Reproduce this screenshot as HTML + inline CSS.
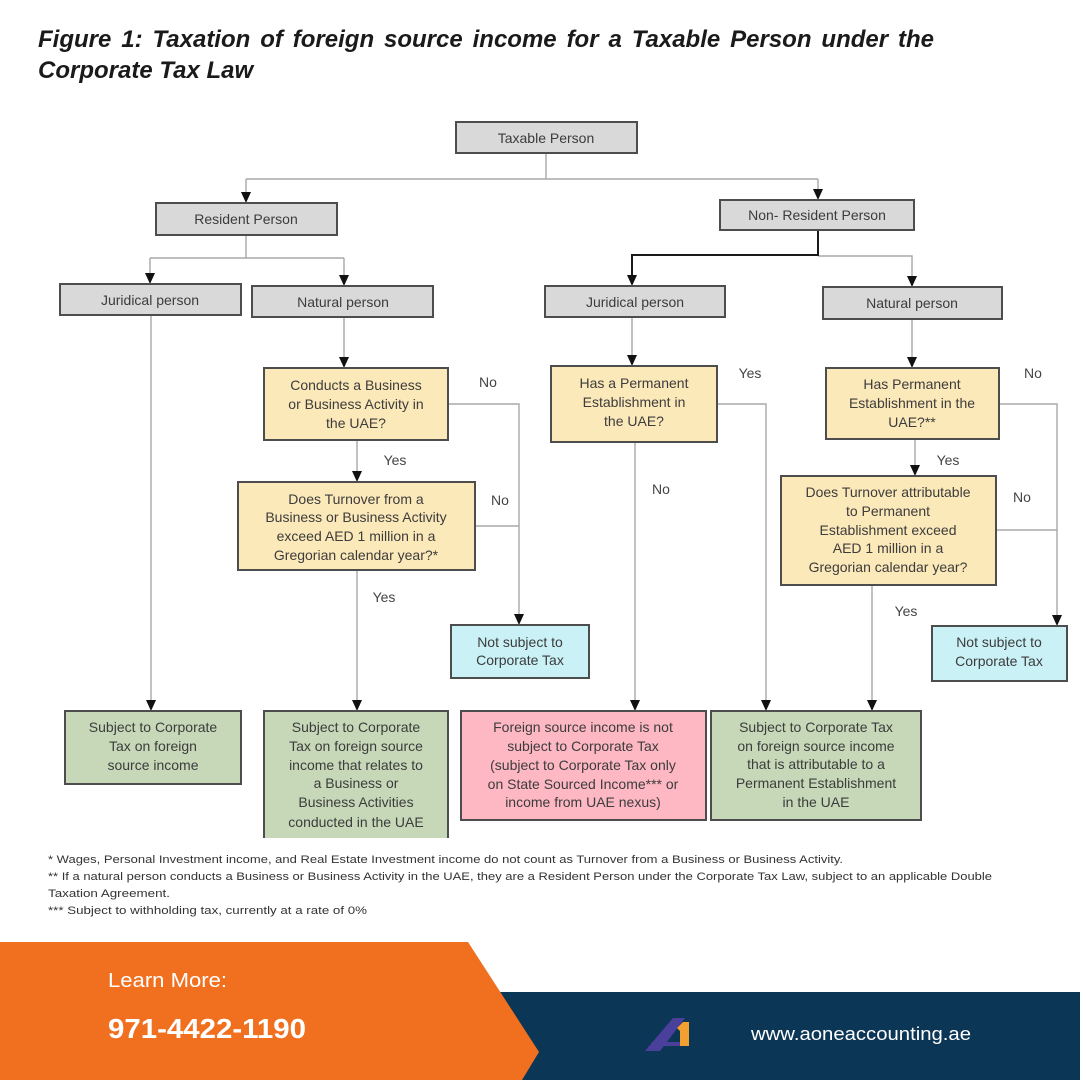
<!DOCTYPE html>
<html>
<head>
<meta charset="utf-8">
<style>
html,body{margin:0;padding:0;background:#fff;}
#wrap{position:relative;width:1080px;height:1080px;overflow:hidden;}
svg{display:block;position:absolute;left:0;top:0;}
.t{position:absolute;left:38px;width:896px;font-family:"Liberation Sans",Arial,sans-serif;font-size:24px;font-weight:bold;font-style:italic;color:#1a1a1a;line-height:28px;white-space:nowrap;}
#t1{top:26px;text-align:justify;text-align-last:justify;white-space:normal;}
#t2{top:57px;}
.bx{font-family:"Liberation Sans",Arial,sans-serif;font-size:14px;fill:#3c3c3c;text-anchor:middle;}
.lb{font-family:"Liberation Sans",Arial,sans-serif;font-size:14px;fill:#444;text-anchor:middle;}
.fn{font-family:"Liberation Sans",Arial,sans-serif;font-size:11px;fill:#333;}
.ln{stroke:#a8a8a8;stroke-width:1.4;fill:none;}
.gr{fill:#d9d9d9;stroke:#4d4d4d;stroke-width:2;}
.ye{fill:#fce9b9;stroke:#4d4d4d;stroke-width:2;}
.cy{fill:#c9f1f6;stroke:#4d4d4d;stroke-width:2;}
.gn{fill:#c6d8b8;stroke:#4d4d4d;stroke-width:2;}
.pk{fill:#fdb8c3;stroke:#4d4d4d;stroke-width:2;}
</style>
</head>
<body>
<div id="wrap">
<svg width="1080" height="1080" viewBox="0 0 1080 1080" xmlns="http://www.w3.org/2000/svg">
<rect width="1080" height="1080" fill="#fff"/>

<!-- Connectors -->
<g class="ln">
<path d="M546 153 V179 M246 179 H818 M246 179 V195 M818 179 V192"/>
<path d="M246 235 V258 M150 258 H344 M150 258 V276 M344 258 V278"/>
<path d="M818 256 H912 V279"/>
<path d="M151 315 V703"/>
<path d="M344 317 V360"/>
<path d="M357 440 V474"/>
<path d="M448 404 H519 V617"/>
<path d="M475 526 H519"/>
<path d="M357 570 V703"/>
<path d="M632 317 V358"/>
<path d="M717 404 H766 V703"/>
<path d="M635 442 V703"/>
<path d="M912 319 V360"/>
<path d="M915 439 V468"/>
<path d="M999 404 H1057 V618"/>
<path d="M996 530 H1057"/>
<path d="M872 585 V703"/>
</g>
<path d="M818 230 V255 H632 V278" stroke="#1a1a1a" stroke-width="2" fill="none"/>

<!-- Arrowheads -->
<g fill="#111">
<polygon points="241,192 251,192 246,203"/>
<polygon points="813,189 823,189 818,200"/>
<polygon points="145,273 155,273 150,284"/>
<polygon points="339,275 349,275 344,286"/>
<polygon points="627,275 637,275 632,286"/>
<polygon points="907,276 917,276 912,287"/>
<polygon points="146,700 156,700 151,711"/>
<polygon points="339,357 349,357 344,368"/>
<polygon points="352,471 362,471 357,482"/>
<polygon points="514,614 524,614 519,625"/>
<polygon points="352,700 362,700 357,711"/>
<polygon points="627,355 637,355 632,366"/>
<polygon points="761,700 771,700 766,711"/>
<polygon points="630,700 640,700 635,711"/>
<polygon points="907,357 917,357 912,368"/>
<polygon points="910,465 920,465 915,476"/>
<polygon points="1052,615 1062,615 1057,626"/>
<polygon points="867,700 877,700 872,711"/>
</g>

<!-- Gray boxes -->
<rect class="gr" x="456" y="122" width="181" height="31"/>
<text class="bx" x="546" y="143">Taxable Person</text>
<rect class="gr" x="156" y="203" width="181" height="32"/>
<text class="bx" x="246" y="224">Resident Person</text>
<rect class="gr" x="720" y="200" width="194" height="30"/>
<text class="bx" x="817" y="220">Non- Resident Person</text>
<rect class="gr" x="60" y="284" width="181" height="31"/>
<text class="bx" x="150" y="305">Juridical person</text>
<rect class="gr" x="252" y="286" width="181" height="31"/>
<text class="bx" x="343" y="307">Natural person</text>
<rect class="gr" x="545" y="286" width="180" height="31"/>
<text class="bx" x="635" y="307">Juridical person</text>
<rect class="gr" x="823" y="287" width="179" height="32"/>
<text class="bx" x="912" y="308">Natural person</text>

<!-- Yellow boxes -->
<rect class="ye" x="264" y="368" width="184" height="72"/>
<text class="bx" x="356" y="390">Conducts a Business</text>
<text class="bx" x="356" y="409">or Business Activity in</text>
<text class="bx" x="356" y="428">the UAE?</text>

<rect class="ye" x="238" y="482" width="237" height="88"/>
<text class="bx" x="356" y="504">Does Turnover from a</text>
<text class="bx" x="356" y="522">Business or Business Activity</text>
<text class="bx" x="356" y="541">exceed AED 1 million in a</text>
<text class="bx" x="356" y="560">Gregorian calendar year?*</text>

<rect class="ye" x="551" y="366" width="166" height="76"/>
<text class="bx" x="634" y="388">Has a Permanent</text>
<text class="bx" x="634" y="407">Establishment in</text>
<text class="bx" x="634" y="426">the UAE?</text>

<rect class="ye" x="826" y="368" width="173" height="71"/>
<text class="bx" x="912" y="389">Has Permanent</text>
<text class="bx" x="912" y="408">Establishment in the</text>
<text class="bx" x="912" y="427">UAE?**</text>

<rect class="ye" x="781" y="476" width="215" height="109"/>
<text class="bx" x="888" y="497">Does Turnover attributable</text>
<text class="bx" x="888" y="516">to Permanent</text>
<text class="bx" x="888" y="535">Establishment exceed</text>
<text class="bx" x="888" y="553">AED 1 million in a</text>
<text class="bx" x="888" y="572">Gregorian calendar year?</text>

<!-- Cyan -->
<rect class="cy" x="451" y="625" width="138" height="53"/>
<text class="bx" x="520" y="647">Not subject to</text>
<text class="bx" x="520" y="665">Corporate Tax</text>
<rect class="cy" x="932" y="626" width="135" height="55"/>
<text class="bx" x="999" y="647">Not subject to</text>
<text class="bx" x="999" y="666">Corporate Tax</text>

<!-- Green -->
<rect class="gn" x="65" y="711" width="176" height="73"/>
<text class="bx" x="153" y="732">Subject to Corporate</text>
<text class="bx" x="153" y="751">Tax on foreign</text>
<text class="bx" x="153" y="770">source income</text>

<path d="M264 838 V711 H448 V838 Z" fill="#c6d8b8"/>
<path d="M264 838 V711 H448 V838" fill="none" stroke="#4d4d4d" stroke-width="2"/>
<text class="bx" x="356" y="732">Subject to Corporate</text>
<text class="bx" x="356" y="751">Tax on foreign source</text>
<text class="bx" x="356" y="770">income that relates to</text>
<text class="bx" x="356" y="788">a Business or</text>
<text class="bx" x="356" y="807">Business Activities</text>
<text class="bx" x="356" y="827">conducted in the UAE</text>

<rect class="gn" x="711" y="711" width="210" height="109"/>
<text class="bx" x="816" y="732">Subject to Corporate Tax</text>
<text class="bx" x="816" y="751">on foreign source income</text>
<text class="bx" x="816" y="769">that is attributable to a</text>
<text class="bx" x="816" y="788">Permanent Establishment</text>
<text class="bx" x="816" y="807">in the UAE</text>

<!-- Pink -->
<rect class="pk" x="461" y="711" width="245" height="109"/>
<text class="bx" x="583" y="732">Foreign source income is not</text>
<text class="bx" x="583" y="751">subject to Corporate Tax</text>
<text class="bx" x="583" y="770">(subject to Corporate Tax only</text>
<text class="bx" x="583" y="789">on State Sourced Income*** or</text>
<text class="bx" x="583" y="807">income from UAE nexus)</text>

<!-- Labels -->
<text class="lb" x="488" y="387">No</text>
<text class="lb" x="395" y="465">Yes</text>
<text class="lb" x="500" y="505">No</text>
<text class="lb" x="384" y="602">Yes</text>
<text class="lb" x="750" y="378">Yes</text>
<text class="lb" x="661" y="494">No</text>
<text class="lb" x="1033" y="378">No</text>
<text class="lb" x="948" y="465">Yes</text>
<text class="lb" x="1022" y="502">No</text>
<text class="lb" x="906" y="616">Yes</text>

<!-- Footnotes -->
<text class="fn" x="48" y="863" textLength="795" lengthAdjust="spacingAndGlyphs">* Wages, Personal Investment income, and Real Estate Investment income do not count as Turnover from a Business or Business Activity.</text>
<text class="fn" x="48" y="880" textLength="944" lengthAdjust="spacingAndGlyphs">** If a natural person conducts a Business or Business Activity in the UAE, they are a Resident Person under the Corporate Tax Law, subject to an applicable Double</text>
<text class="fn" x="48" y="897" textLength="122" lengthAdjust="spacingAndGlyphs">Taxation Agreement.</text>
<text class="fn" x="48" y="914" textLength="319" lengthAdjust="spacingAndGlyphs">*** Subject to withholding tax, currently at a rate of 0%</text>

<!-- Footer -->
<rect x="480" y="992" width="600" height="88" fill="#0c3656"/>
<polygon points="0,942 468,942 539,1052 522,1080 0,1080" fill="#f07020"/>
<text x="108" y="987" font-family="Liberation Sans, Arial, sans-serif" font-size="20" fill="#fff" textLength="119" lengthAdjust="spacingAndGlyphs">Learn More:</text>
<text x="108" y="1038" font-family="Liberation Sans, Arial, sans-serif" font-size="28" font-weight="bold" fill="#fff" textLength="198" lengthAdjust="spacingAndGlyphs">971-4422-1190</text>
<text x="751" y="1040" font-family="Liberation Sans, Arial, sans-serif" font-size="18" fill="#fff" textLength="220" lengthAdjust="spacingAndGlyphs">www.aoneaccounting.ae</text>
<!-- Logo -->
<polygon points="645,1051 673,1018 685,1018 660,1051" fill="#4b3f9c"/>
<polygon points="652,1042 684,1042 683,1046 650,1046" fill="#4b3f9c"/>
<polygon points="677,1028 683,1022 689,1022 689,1046 680,1046 680,1031" fill="#f2a131"/>
</svg>
<div class="t" id="t1">Figure 1: Taxation of foreign source income for a Taxable Person under the</div>
<div class="t" id="t2">Corporate Tax Law</div>
</div>
</body>
</html>
